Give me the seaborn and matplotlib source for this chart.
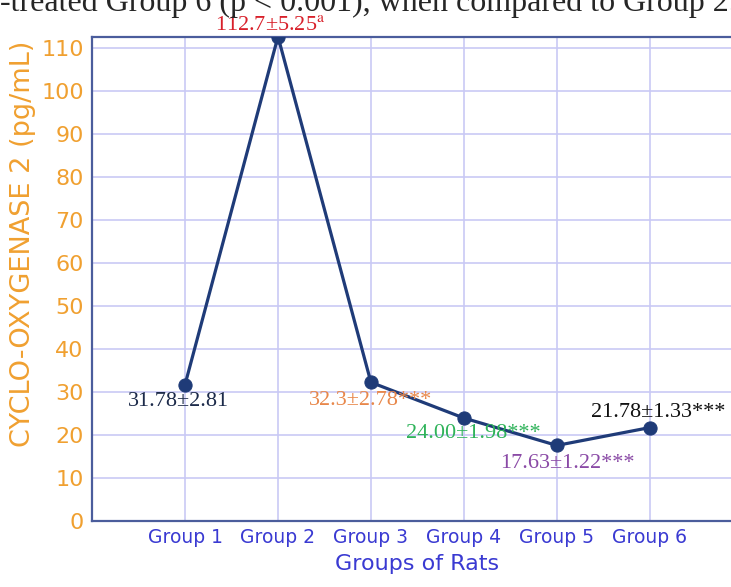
import matplotlib
matplotlib.use("Agg")
import matplotlib.pyplot as plt
import pandas as pd
import seaborn as sns

# chart data
groups = ["Group 1", "Group 2", "Group 3", "Group 4", "Group 5", "Group 6"]
cox2 = [31.78, 112.7, 32.3, 24.00, 17.63, 21.78]
labels = ["31.78±2.81", "112.7±5.25$^{\\mathrm{a}}$", "32.3±2.78***",
          "24.00±1.98***", "17.63±1.22***", "21.78±1.33***"]
label_colors = ["#1c2a4a", "#d8202a", "#e8874a", "#2fb35a", "#8a4aa6", "#111111"]
# pixel offsets of each value label from its point
label_offsets = [(-7, -17), (-8, 11), (0, -18), (9, -15), (11, -18), (8, 15)]
yticks = [0, 10, 20, 30, 40, 50, 60, 70, 80, 90, 100, 110]

df = pd.DataFrame({"pos": range(1, len(groups) + 1), "group": groups, "cox2": cox2})

sns.set_style("white")
plt.rcParams["mathtext.fontset"] = "stix"

fig = plt.figure(figsize=(7.31, 5.87), dpi=100)
ax = fig.add_axes([0.126, 0.112, 0.89, 0.825])

sns.lineplot(data=df, x="pos", y="cox2", ax=ax, color="#1f3b78", linewidth=2.3,
             marker="o", markersize=9.5, markeredgecolor="#1f3b78", zorder=5)

ax.set_xlim(0, 7)
ax.set_ylim(0, 112.6)
ax.set_xticks(df["pos"])
ax.set_xticklabels(groups, color="#3a3ad2", fontsize=13.5)
ax.set_yticks(yticks)
ax.set_yticklabels([str(t) for t in yticks], color="#f0a030", fontsize=16)
ax.tick_params(axis="y", length=0, pad=6)
ax.tick_params(axis="x", length=0, pad=5)

ax.grid(True, color="#c9c9f5", linewidth=1.2)
ax.set_axisbelow(True)
for s in ax.spines.values():
    s.set_color("#4b5d9c")
    s.set_linewidth(1.6)

ax.set_xlabel("Groups of Rats", color="#3a3ad2", fontsize=16, labelpad=5)
ax.set_ylabel("CYCLO-OXYGENASE 2 (pg/mL)", color="#f0a030", fontsize=19.5)
ax.yaxis.set_label_coords(-0.086, 0.572)

for x, y, txt, c, off in zip(df["pos"], cox2, labels, label_colors, label_offsets):
    ax.annotate(txt, (x, y), xytext=off, textcoords="offset pixels", ha="center",
                va="center", color=c, fontsize=16, family="Liberation Serif",
                annotation_clip=False, zorder=6)

# sentence from the page above the chart, cut at the top edge
fig.text(0.0, 0.982, "-treated Group 6 (p < 0.001), when compared to Group 2.",
         family="Liberation Serif", fontsize=23, va="baseline", ha="left")

fig.savefig("out.png", dpi=100)
